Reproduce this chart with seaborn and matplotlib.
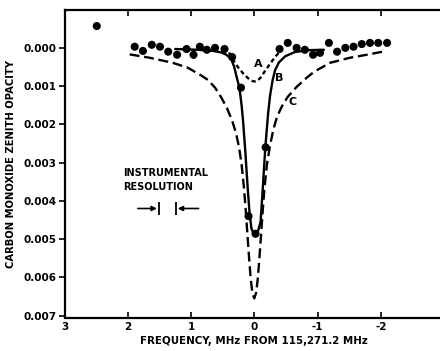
import matplotlib
matplotlib.use("Agg")
import matplotlib.pyplot as plt
import seaborn as sns
import pandas as pd

# ---------------- data ----------------
# Observed points: frequency offset (MHz) and zenith opacity
obs_freq = [2.49, 1.89, 1.76, 1.62, 1.49, 1.36, 1.22, 1.07, 0.96, 0.86, 0.75,
            0.62, 0.47, 0.35, 0.21, 0.09, -0.02, -0.18,
            -0.40, -0.53, -0.67, -0.80, -0.93, -1.04, -1.18, -1.31, -1.44,
            -1.57, -1.70, -1.83, -1.96, -2.10]
obs_opac = [-0.00057, -0.00003, 0.00008, -0.00008, -0.00003, 0.00010, 0.00018,
            0.00003, 0.00018, -0.00003, 0.00005,
            0.00000, 0.00003, 0.00024, 0.00104, 0.00440, 0.00486, 0.00260,
            0.00003, -0.00013, 0.00000, 0.00005, 0.00018, 0.00013, -0.00013,
            0.00010, 0.00000, -0.00003, -0.00010, -0.00013, -0.00013, -0.00013]

# one vertical error bar
err_freq = [0.96]
err_lo = [0.00005]
err_hi = [0.00030]

# Curve A (short dashed)
a_freq = [0.40, 0.34, 0.26, 0.18, 0.10, 0.04, 0.00, -0.05, -0.10, -0.16, -0.24, -0.32, -0.40]
a_opac = [0.00012, 0.00030, 0.00050, 0.00066, 0.00079, 0.00086, 0.00088, 0.00086,
          0.00078, 0.00063, 0.00044, 0.00026, 0.00010]

# Curve B (solid)
b_freq = [1.25, 0.90, 0.65, 0.52, 0.44, 0.37, 0.32, 0.28, 0.235, 0.20, 0.175, 0.14,
          0.105, 0.075, 0.045, 0.00, -0.05, -0.10, -0.13, -0.16, -0.175, -0.20, -0.22,
          -0.25, -0.29, -0.33, -0.39, -0.49, -0.64, -0.85, -1.10]
b_opac = [0.00003, 0.00005, 0.00008, 0.00012, 0.00018, 0.00028, 0.00048, 0.00075,
          0.00104, 0.00150, 0.00195, 0.00274, 0.00363, 0.00430, 0.00472, 0.00490,
          0.00485, 0.00455, 0.00380, 0.00300, 0.00260, 0.00210, 0.00170, 0.00125,
          0.00085, 0.00058, 0.00038, 0.00022, 0.00011, 0.00006, 0.00005]

# Curve C (long dashed)
c_freq = [1.97, 1.65, 1.29, 1.05, 0.86, 0.73, 0.62, 0.52, 0.43, 0.35, 0.29, 0.24,
          0.20, 0.16, 0.13, 0.105, 0.08, 0.055, 0.03, 0.00, -0.03, -0.055, -0.08,
          -0.105, -0.13, -0.16, -0.20, -0.25, -0.30, -0.36, -0.44, -0.53, -0.67,
          -0.83, -0.95, -1.20, -1.51, -1.78, -2.03]
c_opac = [0.00017, 0.00026, 0.00039, 0.00052, 0.00070, 0.00084, 0.00104, 0.00130,
          0.00158, 0.00190, 0.00222, 0.00260, 0.00305, 0.00370, 0.00435, 0.00495,
          0.00553, 0.00605, 0.00640, 0.00655, 0.00640, 0.00605, 0.00553, 0.00495,
          0.00435, 0.00370, 0.00305, 0.00255, 0.00215, 0.00180, 0.00152, 0.00128,
          0.00102, 0.00078, 0.00062, 0.00039, 0.00026, 0.00018, 0.00010]

x_ticks = [3, 2, 1, 0, -1, -2, -3]
x_ticklabels = ["3", "2", "1", "0", "-1", "-2", ""]
y_ticks = [0.000, 0.001, 0.002, 0.003, 0.004, 0.005, 0.006, 0.007]
y_ticklabels = ["0.000", "0.001", "0.002", "0.003", "0.004", "0.005", "0.006", "0.007"]

# ---------------- plot ----------------
sns.set_theme(style="ticks")
plt.rcParams["font.family"] = ["DejaVu Sans"]
plt.rcParams["font.weight"] = "bold"
for k in ["text.color", "axes.labelcolor", "xtick.color", "ytick.color", "axes.edgecolor"]:
    plt.rcParams[k] = "black"

fig = plt.figure(figsize=(4.40, 3.51), dpi=100)
ax = fig.add_axes([64.5 / 440, 1 - 317.5 / 351, (444 - 64.5) / 440, (317.5 - 10) / 351])

lw = 1.7
sns.lineplot(x=c_freq, y=c_opac, ax=ax, color="black", lw=lw, sort=False,
             linestyle=(0, (4.2, 2.0)))
sns.lineplot(x=b_freq, y=b_opac, ax=ax, color="black", lw=lw, sort=False)
sns.lineplot(x=a_freq, y=a_opac, ax=ax, color="black", lw=lw, sort=False,
             linestyle=(0, (1.8, 1.3)))

obs = pd.DataFrame({"freq": obs_freq, "opac": obs_opac})
sns.scatterplot(data=obs, x="freq", y="opac", ax=ax, color="black", s=34,
                edgecolor="none", zorder=5)
ax.vlines(err_freq, err_lo, err_hi, color="black", lw=1.5)

# curve labels
ax.text(-0.07, 0.00042, "A", fontsize=8, ha="center", va="center")
ax.text(-0.40, 0.00078, "B", fontsize=8, ha="center", va="center")
ax.text(-0.61, 0.00141, "C", fontsize=8, ha="center", va="center")

# instrumental resolution
ax.text(2.08, 0.00326, "INSTRUMENTAL", fontsize=7, ha="left", va="center")
ax.text(2.08, 0.00363, "RESOLUTION", fontsize=7, ha="left", va="center")
yr = 0.0042
ap = dict(arrowstyle="-|>", mutation_scale=7, lw=1.2, color="black",
          shrinkA=0, shrinkB=0)
ax.annotate("", xy=(1.54, yr), xytext=(1.84, yr), arrowprops=ap)
ax.annotate("", xy=(1.21, yr), xytext=(0.88, yr), arrowprops=ap)
ax.vlines([1.51, 1.24], yr - 0.00018, yr + 0.00018, color="black", lw=1.3)

ax.set_xlim(3.0, -3.0)
ax.set_ylim(0.00705, -0.00099)
ax.set_xticks(x_ticks)
ax.set_xticklabels(x_ticklabels)
ax.set_yticks(y_ticks)
ax.set_yticklabels(y_ticklabels)

ax.tick_params(axis="x", direction="in", top=True, length=4, width=1.2,
               labelsize=7.5, pad=3)
ax.tick_params(axis="y", direction="out", right=True, length=4, width=1.2,
               labelsize=7.5, pad=2)
for lab in ax.get_xticklabels() + ax.get_yticklabels():
    lab.set_fontweight("bold")
for s in ax.spines.values():
    s.set_visible(True)
    s.set_linewidth(1.6)
    s.set_color("black")

ax.set_xlabel("FREQUENCY, MHz FROM 115,271.2 MHz", fontsize=7.4, fontweight="bold",
              labelpad=3)
ax.set_ylabel("CARBON MONOXIDE ZENITH OPACITY", fontsize=7.2, fontweight="bold",
              labelpad=5)

fig.savefig("out.png", dpi=100)
